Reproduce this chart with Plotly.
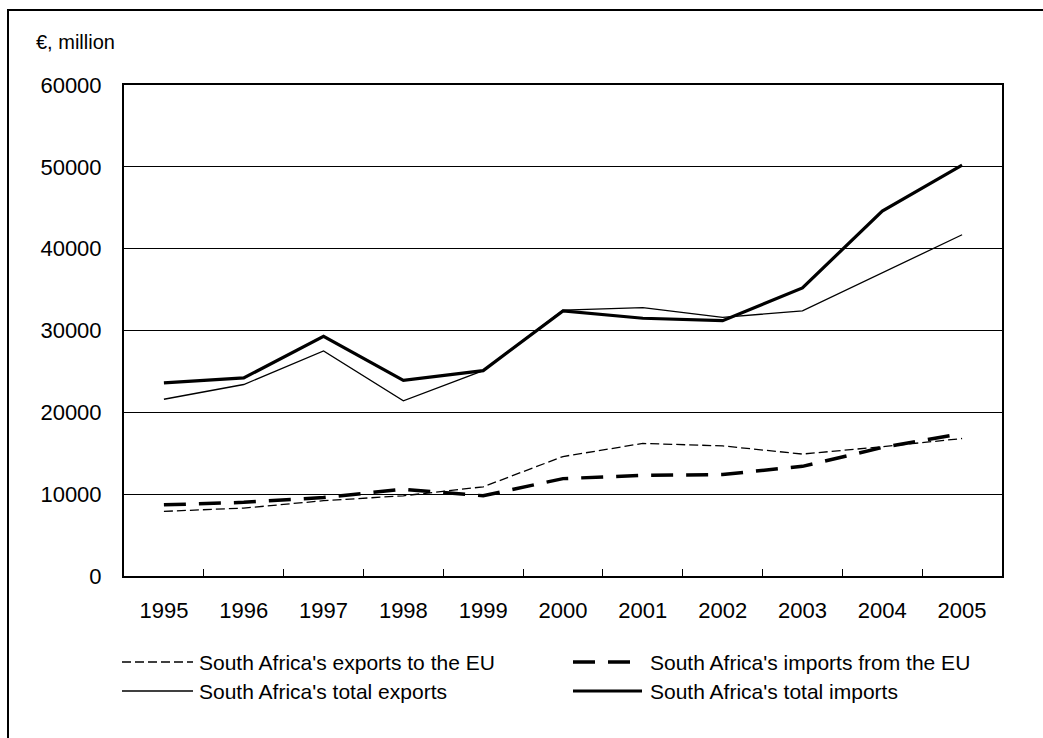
import plotly.graph_objects as go

# Trade values, € million
years = ["1995", "1996", "1997", "1998", "1999", "2000", "2001", "2002", "2003", "2004", "2005"]
exports_to_eu = [7900, 8300, 9200, 9800, 10900, 14600, 16200, 15900, 14900, 15800, 16800]
imports_from_eu = [8700, 9000, 9600, 10600, 9800, 11900, 12300, 12400, 13400, 15700, 17400]
total_exports = [21600, 23400, 27500, 21400, 25100, 32500, 32800, 31600, 32400, 37000, 41700]
total_imports = [23600, 24200, 29300, 23900, 25100, 32400, 31500, 31200, 35200, 44600, 50200]

series_names = [
    "South Africa's exports to the EU",
    "South Africa's imports from the EU",
    "South Africa's total exports",
    "South Africa's total imports",
]

W, H = 1043, 738
L, R, T, B = 124, 1002, 85, 576  # plot-area edges in pixels
FONT = "Arial, Liberation Sans, sans-serif"

styles = [
    dict(color="black", width=1.3, dash="9px,4px"),
    dict(color="black", width=3.5, dash="22px,13px"),
    dict(color="black", width=1.3, dash="solid"),
    dict(color="black", width=3.2, dash="solid"),
]
values = [exports_to_eu, imports_from_eu, total_exports, total_imports]


def px(x):
    return (x - L) / (R - L)


def py(y):
    return (B - y) / (B - T)


fig = go.Figure()
for name, vals, st in zip(series_names, values, styles):
    fig.add_trace(go.Scatter(x=years, y=vals, mode="lines", name=name,
                             line=st, showlegend=False))

shapes = []
annotations = []

# outer frame around the figure
shapes.append(dict(type="rect", xref="paper", yref="paper",
                   x0=px(8), x1=px(W + 20), y0=py(H + 20), y1=py(10),
                   line=dict(color="black", width=2), fillcolor="rgba(0,0,0,0)"))

# legend, drawn as two columns of line samples and labels
legend_rows = [662, 691]
legend_cols = [(122, 193, 197), (573, 642, 648)]
for i, (name, st) in enumerate(zip(series_names, styles)):
    row, col = divmod(i, 2)
    x0, x1, xt = legend_cols[col]
    yy = py(legend_rows[row])
    shapes.append(dict(type="line", xref="paper", yref="paper",
                       x0=px(x0), x1=px(x1), y0=yy, y1=yy,
                       line=dict(color=st["color"], width=st["width"], dash=st["dash"])))
    annotations.append(dict(text=name, xref="paper", yref="paper",
                            x=px(xt), y=yy, xanchor="left", yanchor="middle",
                            showarrow=False, font=dict(family=FONT, size=21, color="black")))

annotations.append(dict(text="€, million", xref="paper", yref="paper",
                        x=px(34), y=py(42), xanchor="left", yanchor="middle",
                        showarrow=False, font=dict(family=FONT, size=20, color="black")))

fig.update_layout(
    width=W, height=H,
    margin=dict(l=L, r=W - R, t=T, b=H - B),
    paper_bgcolor="white", plot_bgcolor="white",
    font=dict(family=FONT, size=22, color="black"),
    shapes=shapes, annotations=annotations,
    showlegend=False,
)
fig.update_xaxes(
    type="category", range=[-0.5, len(years) - 0.5],
    tickson="boundaries", ticks="inside", ticklen=7,
    tickcolor="black", tickwidth=1.2, showgrid=False,
    showline=True, linecolor="black", linewidth=2, mirror=True,
    ticklabelstandoff=14, tickfont=dict(size=22),
)
fig.update_yaxes(
    range=[0, 60000], dtick=10000, tickformat="d",
    showgrid=True, gridcolor="black", gridwidth=1,
    showline=True, linecolor="black", linewidth=2, mirror=True,
    ticks="", ticklabelstandoff=16, zeroline=False, tickfont=dict(size=22),
)

fig.write_html("out.html")
